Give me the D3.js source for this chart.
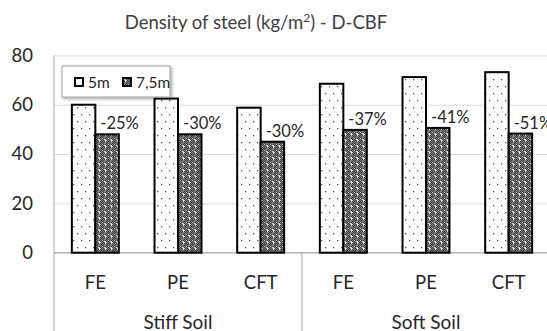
<!DOCTYPE html>
<html>
<head>
<meta charset="utf-8">
<script src="https://cdn.jsdelivr.net/npm/d3@7/dist/d3.min.js"></script>
<style>
  html, body { margin: 0; padding: 0; background: #fff; }
  svg { display: block; font-family: Lato, "Open Sans", sans-serif; }
</style>
</head>
<body>
<svg id="chart" width="547" height="331"></svg>
<script>
// Soil groups and frame types along the category axis
const groups = ["Stiff Soil", "Soft Soil"];
const frames = ["FE", "PE", "CFT"];
const seriesNames = ["5m", "7,5m"];

// Steel density (kg/m²), one entry per group × frame
const values5m  = [60, 62.5, 58.8, 68.5, 71.2, 73.2];
const values75m = [48, 48, 45, 49.8, 50.6, 48.3];
const diffLabels = ["-25%", "-30%", "-30%", "-37%", "-41%", "-51%"];

const yTicks = [0, 20, 40, 60, 80];

(function draw() {
const svg = d3.select("#chart");
const H = 331;
const plotLeft = 54, plotRight = 550, plotTop = 55.4, plotBottom = 252.7;
const ink = "#262626";

// Fill patterns: sparse dots on white, dotted grid on gray
const defs = svg.append("defs");
const pDots = defs.append("pattern").attr("id", "dots")
  .attr("patternUnits", "userSpaceOnUse").attr("width", 8).attr("height", 14);
pDots.append("rect").attr("width", 8).attr("height", 14).attr("fill", "#fff");
[[1, 2], [5, 9]].forEach(([x, y]) =>
  pDots.append("rect").attr("x", x).attr("y", y).attr("width", 1.3).attr("height", 1.3).attr("fill", "#555"));

const pGrid = defs.append("pattern").attr("id", "grid")
  .attr("patternUnits", "userSpaceOnUse").attr("width", 6).attr("height", 6);
pGrid.append("rect").attr("width", 6).attr("height", 6).attr("fill", "#7a7a7a");
[[1,0],[3,0],[5,0],[0,1],[4,1],[1,2],[5,2],[0,3],[2,3],[4,3],[1,4],[5,4],[0,5],[4,5]].forEach(([x, y]) =>
  pGrid.append("rect").attr("x", x).attr("y", y).attr("width", 1).attr("height", 1).attr("fill", "#3c3c3c"));
[[3,2],[2,1],[4,2],[3,1],[3,3],[0,0]].forEach(([x, y], i) =>
  pGrid.append("rect").attr("x", x).attr("y", y).attr("width", 1).attr("height", 1).attr("fill", i === 0 ? "#ffffff" : "#cfcfcf"));

const shadow = defs.append("filter").attr("id", "shadow")
  .attr("x", "-20%").attr("y", "-30%").attr("width", "140%").attr("height", "160%");
shadow.append("feDropShadow").attr("dx", 1.5).attr("dy", 1.5).attr("stdDeviation", 1.5)
  .attr("flood-color", "#000").attr("flood-opacity", 0.35);

// Scales
const x0 = d3.scaleBand().domain(groups).range([plotLeft, plotRight]);
const x1 = d3.scaleBand().domain(frames).range([0, x0.bandwidth()]);
const xs = d3.scaleBand().domain(seriesNames).range([0, x1.bandwidth()]).paddingOuter(0.76);
const y = d3.scaleLinear().domain([0, 80]).range([plotBottom, plotTop]);

// Title
const title = svg.append("text").attr("x", 256).attr("y", 29)
  .attr("text-anchor", "middle").attr("font-size", 18.5).attr("fill", "#404040");
title.append("tspan").text("Density of steel (kg/m");
title.append("tspan").attr("font-size", 12).attr("dy", -7).text("2");
title.append("tspan").attr("dy", 7).text(") - D-CBF");

// Gridlines and value axis labels
const yAxis = d3.axisLeft(y).tickValues(yTicks).tickSize(-(plotRight - plotLeft)).tickPadding(21);
const gy = svg.append("g").attr("transform", `translate(${plotLeft},0)`).call(yAxis);
gy.select(".domain").remove();
gy.selectAll(".tick line").attr("stroke", "#d9d9d9").attr("stroke-width", 1);
gy.selectAll(".tick text").attr("font-size", 18.5).attr("fill", ink)
  .attr("font-family", "Lato, sans-serif");

// Left and baseline axis lines
svg.append("line").attr("x1", plotLeft).attr("x2", plotLeft).attr("y1", plotTop).attr("y2", H)
  .attr("stroke", "#a6a6a6").attr("stroke-width", 1);
svg.append("line").attr("x1", plotLeft).attr("x2", plotRight).attr("y1", y(0)).attr("y2", y(0))
  .attr("stroke", "#a6a6a6").attr("stroke-width", 1);
// Group separator on the category axis
groups.slice(1).forEach(g =>
  svg.append("line").attr("x1", x0(g)).attr("x2", x0(g)).attr("y1", y(0)).attr("y2", H)
    .attr("stroke", "#a6a6a6").attr("stroke-width", 1));

// Bars
const rows = [];
groups.forEach((g, gi) => frames.forEach((f, fi) => {
  const i = gi * frames.length + fi;
  rows.push({ g, f, i, v5: values5m[i], v75: values75m[i], label: diffLabels[i] });
}));

const barG = svg.append("g");
rows.forEach(d => {
  const bx = x0(d.g) + x1(d.f);
  [[seriesNames[0], d.v5, "url(#dots)"], [seriesNames[1], d.v75, "url(#grid)"]].forEach(([s, v, fill]) => {
    barG.append("rect")
      .attr("x", bx + xs(s)).attr("width", xs.bandwidth())
      .attr("y", y(v)).attr("height", y(0) - y(v))
      .attr("fill", fill).attr("stroke", "#000").attr("stroke-width", 2);
  });
  svg.append("text")
    .attr("x", bx + xs(seriesNames[1]) + 5)
    .attr("y", y(d.v75) - 5)
    .attr("font-size", 16.5).attr("fill", ink)
    .text(d.label);
});

// Category labels
rows.forEach(d => {
  svg.append("text").attr("x", x0(d.g) + x1(d.f) + x1.bandwidth() / 2).attr("y", 289)
    .attr("text-anchor", "middle").attr("font-size", 18.5).attr("fill", ink).text(d.f);
});
groups.forEach(g => {
  svg.append("text").attr("x", x0(g) + x0.bandwidth() / 2).attr("y", 329)
    .attr("text-anchor", "middle").attr("font-size", 19).attr("fill", ink).text(g);
});

// Legend
const lg = svg.append("g").attr("transform", "translate(62,66)");
lg.append("rect").attr("width", 108).attr("height", 31).attr("fill", "#fff")
  .attr("stroke", "#a0a0a0").attr("stroke-width", 1).attr("filter", "url(#shadow)");
[[seriesNames[0], "#fff", 13], [seriesNames[1], "url(#grid)", 61]].forEach(([name, fill, lx]) => {
  lg.append("rect").attr("x", lx).attr("y", 12).attr("width", 8).attr("height", 8)
    .attr("fill", fill).attr("stroke", "#000").attr("stroke-width", 2);
  lg.append("text").attr("x", lx + 13).attr("y", 21.5).attr("font-size", 15.5)
    .attr("fill", ink).text(name);
});
})();
</script>
</body>
</html>
